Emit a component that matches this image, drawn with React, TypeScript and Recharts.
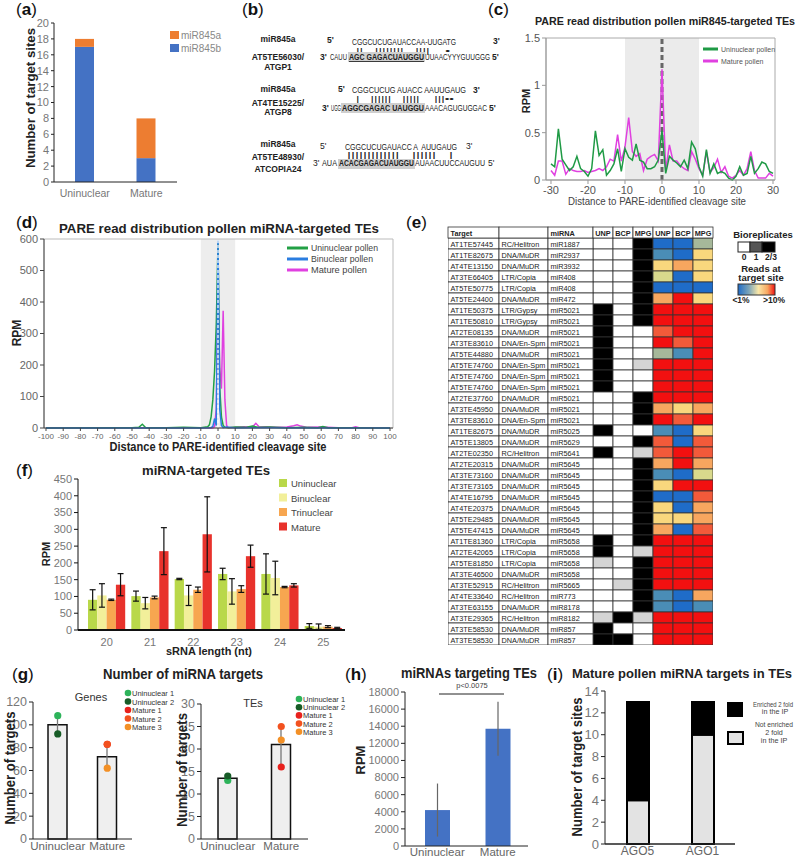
import React from 'react';
import {
  BarChart, Bar, LineChart, Line, ComposedChart, Scatter, XAxis, YAxis,
  ReferenceArea, ReferenceLine, ErrorBar, Cell,
} from 'recharts';

const FONT = '"Liberation Sans", Arial, Helvetica, sans-serif';

// (a) miR845 target sites per stage
const aStages = ['Uninuclear', 'Mature'];
const aMiR845b = [17, 3];
const aMiR845a = [1, 5];
const aTicks = [0, 2, 4, 6, 8, 10, 12, 14, 16, 18, 20];

// (c) PARE reads around miR845 cleavage sites
const cDistance = [
  -30, -29, -28, -27, -26, -25, -24, -23, -22, -21,
  -20, -19, -18, -17, -16, -15, -14, -13, -12, -11,
  -10, -9, -8, -7, -6, -5, -4, -3, -2, -1,
  0, 1, 2, 3, 4, 5, 6, 7, 8, 9,
  10, 11, 12, 13, 14, 15, 16, 17, 18, 19,
  20, 21, 22, 23, 24, 25, 26, 27, 28, 29, 30,
];
const cUninuclear = [
  0.17, 0.14, 0.54, 0.22, 0.16, 0.10, 0.14, 0.25, 0.12, 0.09,
  0.04, 0.12, 0.52, 0.26, 0.32, 0.05, 0.10, 0.17, 0.33, 0.09,
  0.33, 0.24, 0.21, 0.38, 0.21, 0.19, 0.12, 0.12, 0.14, 0.21,
  0.52, 0.07, 0.25, 0.21, 0.18, 0.14, 0.21, 0.12, 0.40, 0.33,
  0.14, 0.04, 0.32, 0.07, 0.17, 0.07, 0.09, 0.07, 0.02, 0.00,
  0.04, 0.14, 0.05, 0.07, 0.25, 0.07, 0.12, 0.19, 0.17, 0.09, 0.07,
];
const cMature = [
  0.10, 0.05, 0.20, 0.20, 0.06, 0.12, 0.10, 0.09, 0.09, 0.10,
  0.08, 0.09, 0.10, 0.12, 0.10, 0.14, 0.22, 0.20, 0.48, 0.20,
  0.35, 0.66, 0.30, 0.25, 0.28, 0.10, 0.22, 0.25, 0.27, 0.20,
  1.17, 0.10, 0.37, 0.20, 0.20, 0.15, 0.12, 0.10, 0.30, 0.22,
  0.12, 0.05, 0.30, 0.08, 0.13, 0.22, 0.08, 0.14, 0.04, 0.02,
  0.05, 0.10, 0.05, 0.12, 0.30, 0.10, 0.02, 0.02, 0.02, 0.07, 0.04,
];
const cXTicks = [-30, -20, -10, 0, 10, 20, 30];
const cYTicks = [0, 0.5, 1, 1.5];

// (d) PARE reads around all miRNA cleavage sites
const dUniDistance = [-100, -60, -50, -46, -44, -42, -30, -20, -10, -6, -5, -4, -3, -2, -1, 0, 1, 2, 3, 4, 6, 10, 16, 20, 24, 30, 40, 50, 58, 61, 64, 70, 80, 90, 100];
const dUniRPM = [0, 1, 1, 2, 12, 1, 1, 2, 1, 4, 10, 35, 90, 180, 330, 585, 130, 35, 8, 2, 1, 3, 2, 6, 2, 3, 1, 2, 1, 5, 1, 1, 1, 0, 0];
const dBinDistance = [-100, -40, -10, -4, -3, -2, -1, 0, 1, 2, 3, 5, 10, 30, 60, 100];
const dBinRPM = [0, 0, 0, 1, 5, 30, 8, 595, 60, 8, 1, 3, 0, 1, 0, 0];
const dMatDistance = [-100, -40, -10, -3, -2, -1, 0, 1, 2, 3, 4, 5, 6, 10, 15, 20, 22, 24, 28, 34, 40, 44, 46, 48, 52, 60, 70, 78, 80, 82, 90, 100];
const dMatRPM = [0, 1, 1, 0, 5, 60, 440, 190, 125, 372, 90, 8, 1, 2, 4, 3, 15, 3, 4, 2, 3, 7, 10, 6, 2, 3, 1, 1, 4, 1, 1, 0];
const dXTicks = [-100, -90, -80, -70, -60, -50, -40, -30, -20, -10, 0, 10, 20, 30, 40, 50, 60, 70, 80, 90, 100];
const dYTicks = [0, 100, 200, 300, 400, 500, 600];

// (e) target table
const tTargets = [
  'AT1TE57445', 'AT1TE82675', 'AT4TE13150', 'AT3TE66405', 'AT5TE50775', 'AT5TE24400',
  'AT1TE50375', 'AT1TE50810', 'AT2TE08135', 'AT3TE83610', 'AT5TE44880', 'AT5TE74760',
  'AT5TE74760', 'AT5TE74760', 'AT2TE37760', 'AT3TE45950', 'AT3TE83610', 'AT1TE82675',
  'AT5TE13805', 'AT2TE02350', 'AT2TE20315', 'AT3TE73160', 'AT3TE73165', 'AT4TE16795',
  'AT4TE20375', 'AT5TE29485', 'AT5TE47415', 'AT1TE81360', 'AT2TE42065', 'AT5TE81850',
  'AT3TE46500', 'AT3TE52915', 'AT4TE33640', 'AT3TE63155', 'AT3TE29365', 'AT3TE58530', 'AT3TE58530',
];
const tFamilies = [
  'RC/Helitron', 'DNA/MuDR', 'DNA/MuDR', 'LTR/Copia', 'LTR/Copia', 'DNA/MuDR',
  'LTR/Gypsy', 'LTR/Gypsy', 'DNA/MuDR', 'DNA/En-Spm', 'DNA/MuDR', 'DNA/En-Spm',
  'DNA/En-Spm', 'DNA/En-Spm', 'DNA/MuDR', 'DNA/MuDR', 'DNA/En-Spm', 'DNA/MuDR',
  'DNA/MuDR', 'RC/Helitron', 'DNA/MuDR', 'DNA/MuDR', 'DNA/MuDR', 'DNA/MuDR',
  'DNA/MuDR', 'DNA/MuDR', 'DNA/MuDR', 'LTR/Copia', 'LTR/Copia', 'LTR/Copia',
  'DNA/MuDR', 'RC/Helitron', 'RC/Helitron', 'DNA/MuDR', 'RC/Helitron', 'DNA/MuDR', 'DNA/MuDR',
];
const tMirnas = [
  'miR1887', 'miR2937', 'miR3932', 'miR408', 'miR408', 'miR472',
  'miR5021', 'miR5021', 'miR5021', 'miR5021', 'miR5021', 'miR5021',
  'miR5021', 'miR5021', 'miR5021', 'miR5021', 'miR5021', 'miR5025',
  'miR5629', 'miR5641', 'miR5645', 'miR5645', 'miR5645', 'miR5645',
  'miR5645', 'miR5645', 'miR5645', 'miR5658', 'miR5658', 'miR5658',
  'miR5658', 'miR5665', 'miR773', 'miR8178', 'miR8182', 'miR857', 'miR857',
];
// bioreplicates: 0, 1, 2 (= 2/3)
const tRepUNP = [0, 0, 0, 0, 0, 0, 2, 2, 2, 2, 2, 2, 2, 2, 0, 0, 0, 2, 0, 2, 0, 0, 0, 0, 0, 0, 0, 2, 2, 1, 0, 0, 0, 0, 1, 2, 2];
const tRepBCP = [0, 0, 0, 0, 0, 0, 0, 0, 0, 0, 0, 0, 0, 0, 0, 0, 0, 0, 0, 0, 0, 0, 0, 0, 0, 0, 0, 0, 0, 0, 0, 1, 0, 0, 2, 0, 2];
const tRepMPG = [2, 2, 2, 2, 2, 2, 2, 2, 0, 0, 0, 1, 0, 0, 2, 2, 2, 0, 2, 1, 2, 2, 2, 2, 2, 2, 2, 2, 1, 2, 2, 2, 2, 2, 1, 0, 0];
// reads at target site, binned 0 (<1%) .. 7 (>10%)
const tReadsUNP = [0, 1, 4, 3, 0, 5, 7, 7, 6, 7, 2, 7, 7, 7, 7, 5, 7, 1, 6, 6, 5, 1, 4, 0, 4, 4, 5, 7, 7, 7, 7, 7, 1, 1, 7, 7, 7];
const tReadsBCP = [0, 0, 5, 0, 0, 7, 7, 7, 7, 6, 1, 7, 7, 7, 7, 4, 6, 0, 0, 7, 7, 0, 7, 0, 0, 4, 0, 7, 7, 7, 7, 7, 0, 0, 7, 7, 7];
const tReadsMPG = [2, 4, 4, 4, 0, 4, 7, 7, 7, 7, 7, 7, 7, 7, 7, 5, 7, 4, 6, 6, 5, 3, 7, 6, 5, 5, 6, 7, 7, 7, 7, 7, 5, 1, 7, 7, 7];

// (f) sRNA length profile
const fLengths = ['20', '21', '22', '23', '24', '25'];
const fUninuclear = [90, 101, 152, 167, 167, 12];
const fUninuclearErr = [30, 15, 2, 17, 60, 7];
const fBinuclear = [103, 80, 103, 115, 155, 10];
const fBinuclearErr = [35, 17, 30, 38, 50, 8];
const fTrinuclear = [90, 97, 120, 122, 128, 10];
const fTrinuclearErr = [2, 4, 8, 10, 2, 3];
const fMature = [135, 235, 285, 220, 133, 6];
const fMatureErr = [33, 70, 112, 33, 5, 2];
const fTicks = [0, 50, 100, 150, 200, 250, 300, 350, 400, 450];

// (g) number of miRNA targets
const gStages = ['Uninuclear', 'Mature'];
const gGeneBars = [100, 72];
const gGeneUni = [108, 92];
const gGeneMat = [83, 83, 62];
const gTeBars = [13.5, 21];
const gTeUni = [13, 14];
const gTeMat = [16, 25, 22];
const gRepNames = ['Uninuclear 1', 'Uninuclear 2', 'Mature 1', 'Mature 2', 'Mature 3'];

// (h) miRNAs targeting TEs
const hStages = ['Uninuclear', 'Mature'];
const hRPM = [4200, 13700];
const hErr = [3100, 3150];
const hTicks = [0, 2000, 4000, 6000, 8000, 10000, 12000, 14000, 16000, 18000];

// (i) AGO IP enrichment
const iAgos = ['AGO5', 'AGO1'];
const iNotEnriched = [4, 10];
const iEnriched = [9, 3];
const iTicks = [0, 2, 4, 6, 8, 10, 12, 14];

const REP_COLORS = ['#2db35a', '#175c27', '#e8211d', '#f2511f', '#f39026'];
const HEAT = ['#1f6cc8', '#4a8db6', '#a6b89a', '#d9d98c', '#f9d77d', '#f7a65f', '#f25a3a', '#f21010'];
const REPFILL = ['#ffffff', '#d4d4d4', '#000000'];

const tick = (size: number, fill = '#777') => ({ fontSize: size, fill, fontFamily: FONT });

const Abs = ({ left, top, children }: any) => (
  <div style={{ position: 'absolute', left, top }}>{children}</div>
);

function PanelA() {
  const data = aStages.map((stage, i) => ({ stage, b: aMiR845b[i], a: aMiR845a[i] }));
  return (
    <BarChart width={200} height={210} data={data} margin={{ top: 23, right: 23, left: 0, bottom: 0 }}>
      <XAxis dataKey="stage" tickLine={false} axisLine={{ stroke: '#222' }} height={28} tick={tick(10.5)} />
      <YAxis domain={[0, 20]} ticks={aTicks} interval={0} width={54} tickSize={3} tickMargin={2}
        axisLine={{ stroke: '#222' }} tickLine={{ stroke: '#222' }} tick={tick(11)} />
      <Bar dataKey="b" stackId="s" fill="#4472c4" barSize={19} isAnimationActive={false} />
      <Bar dataKey="a" stackId="s" fill="#ed7d31" barSize={19} isAnimationActive={false} />
    </BarChart>
  );
}

function PanelC() {
  const data = cDistance.map((x, i) => ({ x, uni: cUninuclear[i], mat: cMature[i] }));
  return (
    <LineChart width={298} height={190} data={data} margin={{ top: 8, right: 23, left: 0, bottom: 18 }}>
      <XAxis dataKey="x" type="number" domain={[-31.35, 30.54]} allowDataOverflow ticks={cXTicks} interval={0}
        height={22} tickSize={4} axisLine={{ stroke: '#999' }} tickLine={{ stroke: '#999' }} tick={tick(11, '#555')} />
      <YAxis domain={[0, 1.5]} ticks={cYTicks} interval={0} width={46} tickSize={4}
        axisLine={{ stroke: '#999' }} tickLine={{ stroke: '#999' }} tick={tick(11, '#555')} />
      <ReferenceArea x1={-10} x2={10} y1={0} y2={1.5} fill="#ebebeb" fillOpacity={1} />
      <ReferenceArea x1={-31.35} x2={30.54} y1={0} y2={1.5} fill="none" stroke="#aaa" />
      <ReferenceLine x={0} stroke="#666" strokeWidth={3} strokeDasharray="5 3" />
      <Line dataKey="mat" stroke="#e040e0" strokeWidth={1.5} dot={false} isAnimationActive={false} />
      <Line dataKey="uni" stroke="#1f9a45" strokeWidth={1.5} dot={false} isAnimationActive={false} />
    </LineChart>
  );
}

function PanelD() {
  const uni = dUniDistance.map((x, i) => ({ x, y: dUniRPM[i] }));
  const bin = dBinDistance.map((x, i) => ({ x, y: dBinRPM[i] }));
  const mat = dMatDistance.map((x, i) => ({ x, y: dMatRPM[i] }));
  return (
    <LineChart width={410} height={240} margin={{ top: 14, right: 17, left: 0, bottom: 17 }}>
      <XAxis dataKey="x" type="number" domain={[-101.16, 101.74]} allowDataOverflow ticks={dXTicks} interval={0}
        height={20} tickSize={3} axisLine={{ stroke: '#444' }} tickLine={{ stroke: '#444' }} tick={tick(8, '#666')} />
      <YAxis domain={[0, 600]} ticks={dYTicks} interval={0} width={44} tickSize={4}
        axisLine={{ stroke: '#444' }} tickLine={{ stroke: '#444' }} tick={tick(11, '#666')} />
      <ReferenceArea x1={-10} x2={10} y1={0} y2={600} fill="#ededed" fillOpacity={1} />
      <ReferenceArea x1={-101.16} x2={101.74} y1={0} y2={600} fill="none" stroke="#bbb" />
      <Line data={mat} dataKey="y" stroke="#e040e0" strokeWidth={1.5} dot={false} isAnimationActive={false} />
      <Line data={uni} dataKey="y" stroke="#22a045" strokeWidth={1.5} dot={false} isAnimationActive={false} />
      <Line data={bin} dataKey="y" stroke="#2a7de0" strokeWidth={1.5} dot={false} isAnimationActive={false} />
      <ReferenceLine x={0} stroke="#ffffff" strokeWidth={1.2} strokeDasharray="3 2" />
    </LineChart>
  );
}

const TableTick = ({ y, payload }: any) => {
  const i = payload.value as number;
  const cols = [
    { x: 0, w: 51, t: tTargets[i] },
    { x: 51, w: 49, t: tFamilies[i] },
    { x: 100, w: 45, t: tMirnas[i] },
  ];
  return (
    <g>
      {cols.map((c, k) => (
        <g key={k}>
          <rect x={c.x} y={y - 5.5} width={c.w} height={11} fill="#fff" stroke="#333" strokeWidth={0.8} />
          <text x={c.x + 2.5} y={y + 3} fontSize={7.3} fill="#222" fontFamily={FONT}>{c.t}</text>
        </g>
      ))}
    </g>
  );
};

function PanelE() {
  const rows = tTargets.map((_, i) => ({ row: i, u0: 1, u1: 1, u2: 1, u3: 1, u4: 1, u5: 1 }));
  const cols = [
    tRepUNP.map((v) => REPFILL[v]),
    tRepBCP.map((v) => REPFILL[v]),
    tRepMPG.map((v) => REPFILL[v]),
    tReadsUNP.map((v) => HEAT[v]),
    tReadsBCP.map((v) => HEAT[v]),
    tReadsMPG.map((v) => HEAT[v]),
  ];
  return (
    <BarChart layout="vertical" width={265} height={407} data={rows} barCategoryGap={0}
      margin={{ top: 0, right: 0, left: 0, bottom: 0 }}>
      <XAxis type="number" domain={[0, 6]} hide />
      <YAxis type="category" dataKey="row" width={145} interval={0} axisLine={false} tickLine={false}
        tick={(p: any) => <TableTick {...p} />} />
      {cols.map((fills, k) => (
        <Bar key={k} dataKey={`u${k}`} stackId="t" stroke="#333" strokeWidth={0.8} isAnimationActive={false}>
          {fills.map((f, i) => <Cell key={i} fill={f} />)}
        </Bar>
      ))}
    </BarChart>
  );
}

function PanelF() {
  const data = fLengths.map((len, i) => ({
    len,
    uni: fUninuclear[i], uniErr: fUninuclearErr[i],
    bin: fBinuclear[i], binErr: fBinuclearErr[i],
    tri: fTrinuclear[i], triErr: fTrinuclearErr[i],
    mat: fMature[i], matErr: fMatureErr[i],
  }));
  const series = [
    { key: 'uni', color: '#b9d84a' },
    { key: 'bin', color: '#f2ef9a' },
    { key: 'tri', color: '#f7a650' },
    { key: 'mat', color: '#e8322c' },
  ];
  return (
    <BarChart width={410} height={200} data={data} barGap={0} margin={{ top: 19, right: 65, left: 0, bottom: 8 }}>
      <XAxis dataKey="len" tickLine={false} padding={{ left: 7, right: 0 }} height={22}
        axisLine={{ stroke: '#111', strokeWidth: 2 }} tick={tick(11)} />
      <YAxis domain={[0, 450]} ticks={fTicks} interval={0} width={78} tickSize={4}
        axisLine={{ stroke: '#111' }} tickLine={{ stroke: '#111' }} tick={tick(11)} />
      {series.map((s) => (
        <Bar key={s.key} dataKey={s.key} fill={s.color} barSize={9.3} isAnimationActive={false}>
          <ErrorBar dataKey={`${s.key}Err`} width={3} stroke="#111" strokeWidth={1.2} />
        </Bar>
      ))}
    </BarChart>
  );
}

function PanelG({ bars, uni, mat, ticks, max, margin }: any) {
  const rows = gStages.map((name, i) => {
    const reps = i === 0 ? uni : mat;
    const lo = Math.min(...reps);
    const hi = Math.max(...reps);
    return { name, mean: bars[i], range: [bars[i] - lo, hi - bars[i]] };
  });
  const dots = [
    ...uni.map((v: number) => ({ name: gStages[0], v })),
    ...mat.map((v: number) => ({ name: gStages[1], v })),
  ];
  return (
    <ComposedChart width={140} height={180} data={rows} margin={margin}>
      <XAxis dataKey="name" allowDuplicatedCategory={false} tickLine={false} height={21} interval={0}
        tickSize={2} tickMargin={1} axisLine={{ stroke: '#222' }} tick={tick(11.5, '#666')} />
      <YAxis domain={[0, max]} ticks={ticks} interval={0} width={33} tickSize={4}
        axisLine={{ stroke: '#222' }} tickLine={{ stroke: '#222' }} tick={tick(12.5, '#777')} />
      <Bar dataKey="mean" barSize={19} fill="#efefef" stroke="#111" strokeWidth={1.5} isAnimationActive={false}>
        <ErrorBar dataKey="range" width={0} stroke="#777" strokeWidth={1.3} />
      </Bar>
      {dots.map((d, k) => (
        <Scatter key={k} data={[d]} dataKey="v" isAnimationActive={false}
          shape={(p: any) => <circle cx={p.cx} cy={p.cy} r={3.6} fill={REP_COLORS[k]} />} />
      ))}
    </ComposedChart>
  );
}

function PanelH() {
  const data = hStages.map((name, i) => ({ name, rpm: hRPM[i], err: hErr[i] }));
  return (
    <BarChart width={180} height={179} data={data} margin={{ top: 12, right: 9, left: 0, bottom: 0 }}>
      <XAxis dataKey="name" tickLine={false} height={13} padding={{ left: 2, right: 0 }} interval={0}
        tickSize={1} tickMargin={1} axisLine={{ stroke: '#222' }} tick={tick(11.5, '#666')} />
      <YAxis domain={[0, 18000]} ticks={hTicks} interval={0} width={48} tickSize={4}
        axisLine={{ stroke: '#222' }} tickLine={{ stroke: '#222' }} tick={tick(11, '#777')} />
      <Bar dataKey="rpm" fill="#4472c4" barSize={25} isAnimationActive={false}>
        <ErrorBar dataKey="err" width={0} stroke="#666" strokeWidth={1.2} />
      </Bar>
    </BarChart>
  );
}

function PanelI() {
  const data = iAgos.map((name, i) => ({ name, not: iNotEnriched[i], enr: iEnriched[i] }));
  return (
    <BarChart width={190} height={179} data={data} margin={{ top: 11, right: 15, left: 0, bottom: 0 }}>
      <XAxis dataKey="name" tickLine={false} height={15} interval={0} tickSize={1} tickMargin={1}
        axisLine={{ stroke: '#222', strokeWidth: 1.5 }} tick={tick(12, '#666')} />
      <YAxis domain={[0, 14]} ticks={iTicks} interval={0} width={45} tickSize={4}
        axisLine={{ stroke: '#222' }} tickLine={{ stroke: '#222' }} tick={tick(13, '#777')} />
      <Bar dataKey="not" stackId="s" fill="#e3e3e3" stroke="#000" strokeWidth={2} barSize={22} isAnimationActive={false} />
      <Bar dataKey="enr" stackId="s" fill="#000" stroke="#000" strokeWidth={2} barSize={22} isAnimationActive={false} />
    </BarChart>
  );
}

const T = ({ x, y, s = 10, b = false, a = 'start', len, fill = '#222', rot = false, u = false, children }: any) => (
  <text x={x} y={y} fontSize={s} fontWeight={b ? 'bold' : 'normal'} textAnchor={a} fill={fill}
    fontFamily={FONT} textLength={len} lengthAdjust={len ? 'spacingAndGlyphs' : undefined}
    textDecoration={u ? 'underline' : undefined} style={{ whiteSpace: 'pre' }}
    transform={rot ? `rotate(-90 ${x} ${y})` : undefined}>{children}</text>
);

const PL = ({ x, y, l }: any) => (
  <text x={x} y={y} fontSize={17} fontFamily={FONT} fill="#111">(<tspan fontWeight="bold">{l}</tspan>)</text>
);

function Overlay() {
  const hdr = [
    { x: 448, w: 51, t: 'Target', a: 'start' },
    { x: 499, w: 49, t: '', a: 'start' },
    { x: 548, w: 45, t: 'miRNA', a: 'start' },
    { x: 593, w: 20, t: 'UNP', a: 'middle' },
    { x: 613, w: 20, t: 'BCP', a: 'middle' },
    { x: 633, w: 20, t: 'MPG', a: 'middle' },
    { x: 653, w: 20, t: 'UNP', a: 'middle' },
    { x: 673, w: 20, t: 'BCP', a: 'middle' },
    { x: 693, w: 20, t: 'MPG', a: 'middle' },
  ];
  return (
    <svg width={798} height={859} style={{ position: 'absolute', left: 0, top: 0, pointerEvents: 'none' }}>
      <defs>
        <linearGradient id="heat" x1="0" x2="1" y1="0" y2="0">
          <stop offset="0" stopColor="#1f6cc8" />
          <stop offset="0.3" stopColor="#7fa6b8" />
          <stop offset="0.55" stopColor="#f9e7a8" />
          <stop offset="0.8" stopColor="#f7a65f" />
          <stop offset="1" stopColor="#f21010" />
        </linearGradient>
      </defs>

      {/* panel labels */}
      <PL x={16} y={15} l="a" />
      <PL x={242} y={15} l="b" />
      <PL x={488} y={15} l="c" />
      <PL x={16} y={228} l="d" />
      <PL x={406} y={228} l="e" />
      <PL x={16} y={476} l="f" />
      <PL x={12} y={680} l="g" />
      <PL x={345} y={680} l="h" />
      <PL x={547} y={680} l="i" />

      {/* (a) */}
      <T x={35} y={98} s={13} b a="middle" rot len={140} fill="#222">Number of target sites</T>
      <rect x={170} y={31} width={9} height={8} fill="#ed7d31" />
      <rect x={170} y={44} width={9} height={8} fill="#4472c4" />
      <T x={181} y={39} s={10} fill="#888">miR845a</T>
      <T x={181} y={52} s={10} fill="#888">miR845b</T>

      {/* (b) */}
      <T x={278} y={42} s={8.5} b a="middle">miR845a</T>
      <T x={278} y={60} s={8.5} b a="middle">AT5TE56030/</T>
      <T x={278} y={70} s={8.5} b a="middle">ATGP1</T>
      <T x={327} y={43} s={8.5} b>5'</T>
      <T x={352} y={45} s={8.5} len={104}>CGGCUCUGAUACCAA-UUGATG</T>
      <T x={493} y={44} s={8.5} b>3'</T>
      <T x={356} y={53} s={8} len={94}>{'||   ||||||||   ||||    •'}</T>
      <rect x={348} y={52} width={77} height={10} fill="#cfcfcf" />
      <T x={320} y={60} s={8.5} b>3'</T>
      <T x={330} y={60} s={8.5} len={17}>CAUU</T>
      <T x={349} y={60} s={8.5} b u len={75}>AGC GAGACUAUGGU</T>
      <T x={425} y={60} s={8.5} len={65}>UUAACYYYGUUGGG</T>
      <T x={492} y={60} s={8.5} b>5'</T>

      <T x={278} y={92} s={8.5} b a="middle">miR845a</T>
      <T x={278} y={106} s={8.5} b a="middle">AT4TE15225/</T>
      <T x={278} y={115} s={8.5} b a="middle">ATGP8</T>
      <T x={338} y={92} s={8.5} b>5'</T>
      <T x={352} y={93} s={8.5} len={114}>CGGCUCUG AUACC AAUUGAUG</T>
      <T x={473} y={93} s={8.5} b>3'</T>
      <T x={356} y={101} s={8} len={98}>{'|   ||||||   |||||    |||••'}</T>
      <rect x={341} y={103} width={84} height={10} fill="#cfcfcf" />
      <T x={322} y={111} s={8.5} b>3'</T>
      <T x={331} y={111} s={8.5} len={10}>UGG</T>
      <T x={342} y={111} s={8.5} b len={82}>AGGCGAGAC UAUGGU</T>
      <T x={425} y={111} s={8.5} len={62}>AAACAGUGUGGAC</T>
      <T x={489} y={111} s={8.5} b>5'</T>

      <T x={278} y={147} s={8.5} b a="middle">miR845a</T>
      <T x={278} y={160} s={8.5} b a="middle">AT5TE48930/</T>
      <T x={278} y={172} s={8.5} b a="middle">ATCOPIA24</T>
      <T x={320} y={149} s={8.5}>5'</T>
      <T x={345} y={150} s={8.5} len={112}>CGGCUCUGAUACC A  AUUGAUG</T>
      <T x={466} y={149} s={8.5}>3'</T>
      <T x={347} y={157} s={8} len={106}>{'|||||||||||||   ||||||   |'}</T>
      <rect x={338} y={159} width={77} height={10} fill="#cfcfcf" />
      <T x={313} y={166} s={8.5}>3'</T>
      <T x={322} y={166} s={8.5} len={15}>AUA</T>
      <T x={339} y={166} s={8.5} b len={75}>ACACGAGACUAUGGU</T>
      <T x={415} y={166} s={8.5} len={70}>AUAACUUCCAUGUU</T>
      <T x={488} y={166} s={8.5}>5'</T>

      {/* (c) */}
      <T x={665} y={25} s={10.5} b a="middle" len={260}>PARE read distribution pollen miR845-targeted TEs</T>
      <T x={530} y={101} s={11} b a="middle" rot>RPM</T>
      <T x={657} y={205} s={11} a="middle" fill="#444" len={178}>Distance to PARE-identified cleavage site</T>
      <line x1={703} y1={49} x2={718} y2={49} stroke="#1f9a45" strokeWidth={3} />
      <line x1={703} y1={61} x2={718} y2={61} stroke="#e040e0" strokeWidth={3} />
      <T x={721} y={51.5} s={7} fill="#555">Uninuclear pollen</T>
      <T x={721} y={63.5} s={7} fill="#555">Mature pollen</T>

      {/* (d) */}
      <T x={219} y={233} s={13.5} b a="middle" len={320}>PARE read distribution pollen miRNA-targeted TEs</T>
      <T x={21} y={333} s={12} b a="middle" rot>RPM</T>
      <T x={218} y={451} s={12} b a="middle" len={217}>Distance to PARE-identified cleavage site</T>
      <line x1={287} y1={248} x2={308} y2={248} stroke="#22a045" strokeWidth={3} />
      <line x1={287} y1={259} x2={308} y2={259} stroke="#2a7de0" strokeWidth={3} />
      <line x1={287} y1={270} x2={308} y2={270} stroke="#e040e0" strokeWidth={3} />
      <T x={311} y={251} s={9} fill="#444" len={67}>Uninuclear pollen</T>
      <T x={311} y={262} s={9} fill="#444" len={62}>Binuclear pollen</T>
      <T x={311} y={273} s={9} fill="#444" len={56}>Mature pollen</T>

      {/* (e) header + legend */}
      {hdr.map((h, k) => (
        <g key={k}>
          <rect x={h.x} y={227} width={h.w} height={11} fill="#fff" stroke="#333" strokeWidth={0.8} />
          <T x={h.a === 'middle' ? h.x + h.w / 2 : h.x + 2.5} y={235.5} s={7.3} b a={h.a}>{h.t}</T>
        </g>
      ))}
      <T x={763} y={238} s={9.5} b a="middle">Bioreplicates</T>
      <rect x={738} y={242} width={12} height={10} fill="#fff" stroke="#222" />
      <rect x={750} y={242} width={12} height={10} fill="#555" stroke="#222" />
      <rect x={762} y={242} width={13} height={10} fill="#000" stroke="#222" />
      <T x={744} y={260} s={8.5} b a="middle">0</T>
      <T x={756} y={260} s={8.5} b a="middle">1</T>
      <T x={771} y={260} s={8.5} b a="middle">2/3</T>
      <T x={761} y={272} s={9.5} b a="middle">Reads at</T>
      <T x={761} y={281} s={9.5} b a="middle">target site</T>
      <rect x={738} y={284} width={37} height={11} fill="url(#heat)" stroke="#333" />
      <T x={741} y={303} s={8.5} b a="middle">{'<1%'}</T>
      <T x={774} y={303} s={8.5} b a="middle">{'>10%'}</T>

      {/* (f) */}
      <T x={206} y={475} s={13} b a="middle" len={128}>miRNA-targeted TEs</T>
      <T x={50} y={554} s={11} b a="middle" rot>RPM</T>
      <T x={209} y={655} s={11} b a="middle" len={86}>sRNA length (nt)</T>
      {[['#b9d84a', 'Uninuclear'], ['#f2ef9a', 'Binuclear'], ['#f7a650', 'Trinuclear'], ['#e8322c', 'Mature']].map(([c, n], k) => (
        <g key={n}>
          <rect x={279} y={479 + k * 14.5} width={8} height={8} fill={c} />
          <T x={291} y={487 + k * 14.5} s={9.5} fill="#444">{n}</T>
        </g>
      ))}

      {/* (g) */}
      <T x={183} y={679} s={15} b a="middle" len={160}>Number of miRNA targets</T>
      <T x={91} y={701} s={11} a="middle" fill="#333">Genes</T>
      <T x={253} y={707} s={11} a="middle" fill="#333">TEs</T>
      <T x={15} y={768} s={15} b a="middle" rot len={113}>Number of targets</T>
      <T x={187} y={770} s={15} b a="middle" rot len={114}>Number of targets</T>
      {gRepNames.map((n, k) => (
        <g key={n}>
          <circle cx={128} cy={693 + k * 8.5} r={3.3} fill={REP_COLORS[k]} />
          <T x={132} y={696 + k * 8.5} s={7.5} fill="#333">{n}</T>
          <circle cx={299} cy={699 + k * 8.2} r={3.3} fill={REP_COLORS[k]} />
          <T x={303} y={702 + k * 8.2} s={7.5} fill="#333">{n}</T>
        </g>
      ))}

      {/* (h) */}
      <T x={469} y={678} s={15} b a="middle" len={136}>miRNAs targeting TEs</T>
      <T x={365} y={760} s={13} b a="middle" rot>RPM</T>
      <T x={472} y={688} s={7.5} a="middle" fill="#444">p&lt;0.0075</T>
      <line x1={439} y1={694} x2={504} y2={694} stroke="#222" strokeWidth={1} />

      {/* (i) */}
      <T x={682} y={678} s={13.5} b a="middle" len={220}>Mature pollen miRNA targets in TEs</T>
      <T x={582} y={767} s={15} b a="middle" rot len={139}>Number of target sites</T>
      <rect x={727} y={702} width={16} height={15} fill="#000" />
      <rect x={728} y={732} width={15} height={12} fill="#e3e3e3" stroke="#000" strokeWidth={2} />
      <T x={773} y={707} s={6.8} a="middle" fill="#444" len={40}>Enriched 2 fold</T>
      <T x={775} y={714} s={7.2} a="middle" fill="#444">in the IP</T>
      <T x={774} y={727} s={7} a="middle" fill="#444" len={38}>Not enriched</T>
      <T x={774} y={735} s={7.2} a="middle" fill="#444">2 fold</T>
      <T x={774} y={743} s={7.2} a="middle" fill="#444">in the IP</T>
    </svg>
  );
}

export default function App() {
  return (
    <div style={{ position: 'absolute', left: 0, top: 0, width: 798, height: 859, background: '#fff', overflow: 'hidden', fontFamily: FONT }}>
      <Abs left={0} top={0}><PanelA /></Abs>
      <Abs left={500} top={30}><PanelC /></Abs>
      <Abs left={0} top={225}><PanelD /></Abs>
      <Abs left={448} top={238}><PanelE /></Abs>
      <Abs left={0} top={460}><PanelF /></Abs>
      <Abs left={0} top={680}>
        <PanelG bars={gGeneBars} uni={gGeneUni} mat={gGeneMat} max={120}
          ticks={[0, 20, 40, 60, 80, 100, 120]} margin={{ top: 22, right: 8, left: 0, bottom: 0 }} />
      </Abs>
      <Abs left={168} top={680}>
        <PanelG bars={gTeBars} uni={gTeUni} mat={gTeMat} max={30}
          ticks={[0, 5, 10, 15, 20, 25, 30]} margin={{ top: 24, right: 0, left: 0, bottom: 0 }} />
      </Abs>
      <Abs left={357} top={680}><PanelH /></Abs>
      <Abs left={560} top={680}><PanelI /></Abs>
      <Overlay />
    </div>
  );
}
